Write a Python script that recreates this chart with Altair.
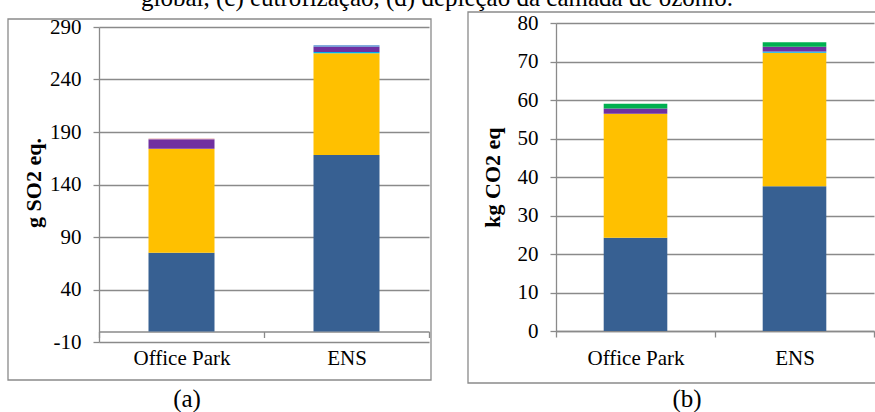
import altair as alt
import pandas as pd

# ---------------- data ----------------
categorias = ["Office Park", "ENS"]
etapas = ["Etapa 1", "Etapa 2", "Etapa 3", "Etapa 4", "Etapa 5", "Etapa 6", "Etapa 7"]
cores = ["#376092", "#FFC000", "#00B0F0", "#7030A0", "#00B050", "#E8A9A9", "#5B8FD0"]

acid_office = [75, 99, 0, 9, 0, 0.7, 0]
acid_ens = [168, 97, 1.3, 5, 0, 0, 1.3]
gwp_office = [24.2, 32.2, 0, 1.4, 1.2, 0, 0]
gwp_ens = [37.6, 34.7, 0.3, 1.2, 1.2, 0, 0]

ticks_a = [-10, 40, 90, 140, 190, 240, 290]
ticks_b = [0, 10, 20, 30, 40, 50, 60, 70, 80]

legenda_topo = "global, (c) eutrofização, (d) depleção da camada de ozônio."

FONT = "Liberation Serif"
GRID = "#8a8a8a"


def tabela(office, ens):
    rows = []
    for cat, vals in zip(categorias, [office, ens]):
        for i, (et, v) in enumerate(zip(etapas, vals)):
            if v > 0:
                rows.append({"categoria": cat, "etapa": et, "valor": v, "ordem": i})
    return pd.DataFrame(rows)


one = pd.DataFrame({"k": [0]})


def painel(df, ticks, dom, w, h, rng_top, titulo, title_x, x_off, label_pad,
           box, letra, letra_x, letra_y, extra_text=None):
    box_layer = alt.Chart(one).mark_rect(
        fillOpacity=0, stroke=GRID, strokeWidth=1.3
    ).encode(
        x=alt.value(box[0]), x2=alt.value(box[1]),
        y=alt.value(box[2]), y2=alt.value(box[3]),
    )
    bars = alt.Chart(df).mark_bar(width=alt.RelativeBandSize(0.4)).encode(
        x=alt.X(
            "categoria:N", sort=categorias, title=None,
            scale=alt.Scale(paddingInner=0, paddingOuter=0),
            axis=alt.Axis(
                labelAngle=0, labelFont=FONT, labelFontSize=21, labelColor="black",
                domainColor=GRID, domainWidth=1.3, tickColor=GRID, tickWidth=1.3,
                tickSize=6, tickBand="extent", labelPadding=label_pad,
                offset=x_off, grid=False,
            ),
        ),
        y=alt.Y(
            "valor:Q", stack="zero", title=titulo,
            scale=alt.Scale(domain=dom, range=[h, rng_top], nice=False, zero=False),
            axis=alt.Axis(
                values=ticks,
                labelExpr="datum.value < 0 ? '-' + abs(datum.value) : '' + datum.value",
                labelFont=FONT, labelFontSize=21, labelColor="black", labelPadding=12,
                domainColor=GRID, domainWidth=1.3, tickColor=GRID, tickWidth=1.3,
                tickSize=6, grid=True, gridColor=GRID, gridWidth=1.3,
                titleFont=FONT, titleFontSize=22, titleFontWeight="bold",
                titleColor="black", titleAngle=270, titleAlign="center",
                titleBaseline="middle", titleX=title_x, titleY=h / 2,
            ),
        ),
        color=alt.Color("etapa:N", scale=alt.Scale(domain=etapas, range=cores), legend=None),
        order=alt.Order("ordem:Q"),
    )
    letra_layer = alt.Chart(one).mark_text(
        text=letra, font=FONT, fontSize=25, color="black", align="center",
        baseline="alphabetic",
    ).encode(x=alt.value(letra_x), y=alt.value(letra_y))
    layers = [box_layer, bars, letra_layer]
    if extra_text is not None:
        layers.append(
            alt.Chart(one).mark_text(
                text=extra_text[0], font=FONT, fontSize=25, color="black",
                align="center", baseline="alphabetic",
            ).encode(x=alt.value(extra_text[1]), y=alt.value(extra_text[2]))
        )
    return alt.layer(*layers).properties(width=w, height=h)


ha = 319
a = painel(tabela(acid_office, acid_ens), ticks_a, [-10, 290], 330, ha, 4,
           "g SO2 eq.", -66, -10.5, 10, (-91, 332, -4, 357), "(a)", 88, 384,
           extra_text=(legenda_topo, 338, -17))
hb = 308
b = painel(tabela(gwp_office, gwp_ens), ticks_b, [0, 80], 318, hb, 0,
           "kg CO2 eq", -64, 0, 10, (-88, 335, -11, 360), "(b)", 131, 384)

chart = alt.hconcat(a, b, spacing=127, bounds="flush").properties(
    padding={"left": 99, "top": 23, "right": 776, "bottom": 389},
    autosize=alt.AutoSizeParams(type="none"),
).configure_view(strokeWidth=0)

chart.save("out.html", embed_options={"renderer": "svg", "actions": False})
